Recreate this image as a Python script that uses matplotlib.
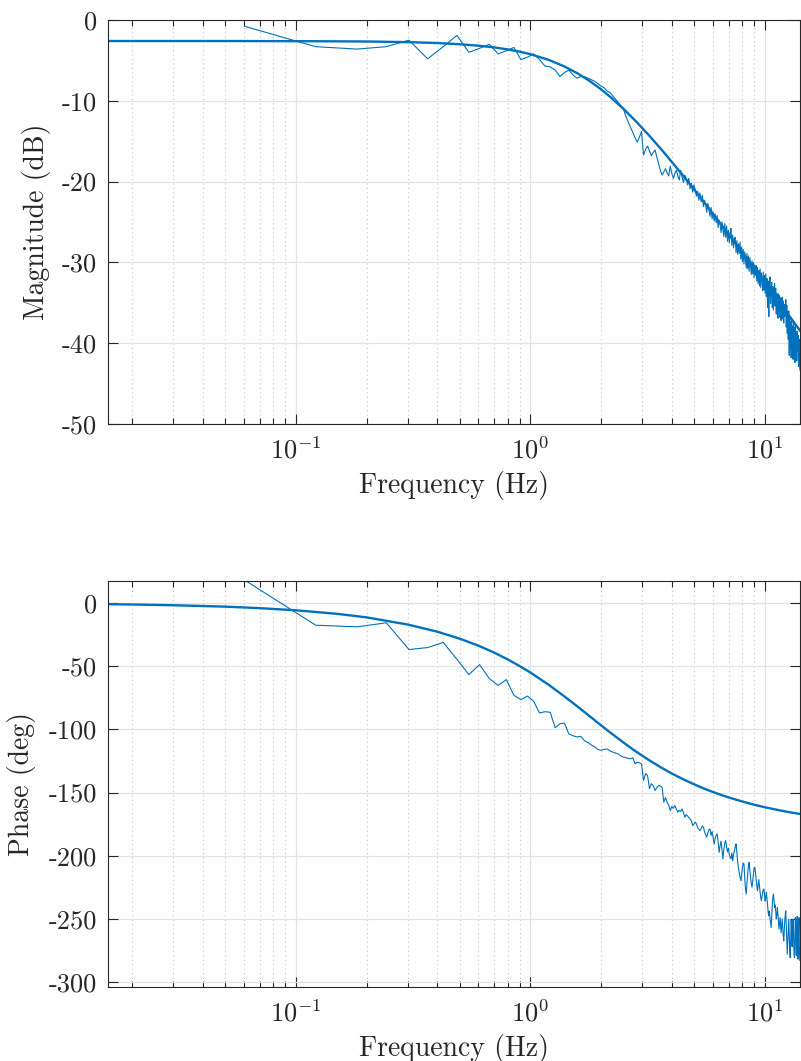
import numpy as np
import matplotlib
matplotlib.use('Agg')
import matplotlib.pyplot as plt
from matplotlib.ticker import FixedLocator, LogLocator, FuncFormatter, NullFormatter

plt.rcParams['font.family'] = 'cmr10'
plt.rcParams['mathtext.fontset'] = 'cm'
plt.rcParams['axes.unicode_minus'] = False
plt.rcParams['axes.formatter.use_mathtext'] = False

# ---------------- data ----------------
# measured FRF: FFT bins, frequency resolution (Hz)
df = 0.0607

mag_meas = [
    -0.8, -3.3, -3.6, -3.3, -2.5, -4.8, -3.3, -1.9, -4.0, -3.5,
    -3.0, -4.2, -3.8, -3.4, -4.9, -4.6, -4.2, -4.9, -5.7, -5.8,
    -6.2, -7.0, -6.5, -6.2, -6.8, -7.2, -7.0, -7.0, -7.2, -7.4,
    -7.6, -7.9, -8.2, -8.4, -8.8, -9.0, -9.4, -9.8, -10.2, -10.6,
    -11.0, -11.9, -12.6, -13.3, -13.9, -14.6, -15.1, -14.5, -13.8, -16.7,
    -16.0, -15.6, -16.2, -16.8, -16.4, -16.1, -17.0, -17.8, -18.6, -19.2,
    -18.8, -18.4, -18.9, -19.3, -18.1, -19.0, -19.6, -19.0, -18.6, -19.3,
    -19.8, -18.6, -19.4, -20.1, -19.2, -19.6, -20.4, -19.6, -20.9, -20.2,
    -21.3, -20.4, -21.0, -21.8, -21.2, -22.3, -21.4, -22.5, -21.7, -23.1,
    -22.3, -22.9, -23.8, -22.7, -23.4, -24.3, -23.2, -24.6, -23.8, -24.9,
    -24.0, -25.1, -24.2, -25.7, -24.8, -25.3, -26.3, -25.0, -26.0, -26.8,
    -25.2, -26.9, -25.5, -27.4, -26.0, -27.6, -26.3, -25.8, -27.9, -26.6,
    -28.2, -27.0, -26.9, -28.8, -27.3, -29.0, -27.7, -28.9, -27.5, -29.6,
    -28.1, -29.9, -28.4, -30.2, -28.7, -29.6, -30.7, -28.9, -30.8, -29.2,
    -31.1, -29.4, -30.4, -31.5, -29.8, -31.4, -30.0, -31.9, -30.3, -31.6,
    -30.4, -32.3, -30.6, -32.6, -31.0, -32.9, -30.8, -33.1, -31.3, -32.0,
    -33.5, -31.2, -33.4, -31.6, -33.8, -31.4, -34.2, -32.0, -35.6, -32.3,
    -36.7, -33.0, -31.8, -35.1, -33.3, -32.5, -35.6, -33.0, -35.9, -33.4,
    -32.6, -35.4, -33.2, -36.4, -33.8, -35.0, -36.9, -33.9, -35.9, -34.1,
    -36.8, -34.4, -37.2, -35.0, -34.3, -37.0, -34.8, -37.5, -35.2, -36.5,
    -36.7, -34.6, -38.0, -35.3, -38.8, -36.1, -39.5, -36.0, -41.5, -36.8,
    -40.7, -37.3, -41.8, -37.0, -40.2, -37.9, -42.0, -37.4, -41.6, -38.1,
    -42.4, -37.8, -41.3, -38.6, -42.2, -38.5, -41.0, -39.0, -42.9, -39.5,
    -41.8, -43.3,
]

phase_meas = [
    18.0, -17.5, -18.8, -15.6, -36.8, -35.2, -31.2, -44.5, -56.6, -48.7,
    -59.8, -65.1, -60.6, -73.0, -76.5, -73.6, -77.8, -87.0, -86.0, -86.5,
    -98.7, -95.5, -95.0, -103.5, -105.0, -106.0, -105.5, -109.0, -110.5, -112.5,
    -114.0, -116.0, -116.5, -115.8, -115.5, -117.0, -118.0, -118.8, -119.5, -121.0,
    -122.0, -122.3, -123.0, -123.3, -122.5, -127.2, -126.0, -126.5, -127.2, -140.5,
    -135.0, -136.5, -147.0, -143.0, -144.5, -148.4, -146.0, -144.4, -145.0, -145.8,
    -157.7, -154.0, -157.7, -160.0, -164.3, -161.0, -162.5, -160.3, -163.0, -165.6,
    -164.0, -165.0, -163.0, -166.0, -169.6, -167.5, -168.5, -170.0, -171.0, -172.5,
    -176.2, -175.0, -173.5, -174.8, -177.5, -179.0, -180.2, -178.5, -176.5, -177.5,
    -181.0, -183.5, -185.4, -182.0, -179.5, -178.8, -184.0, -181.0, -186.0, -190.7,
    -186.0, -184.0, -182.8, -189.0, -197.4, -192.0, -188.5, -196.0, -202.6, -195.0,
    -190.0, -188.0, -193.0, -197.0, -194.0, -199.0, -201.0, -202.6, -198.0, -204.0,
    -199.0, -196.0, -193.0, -190.7, -198.0, -205.0, -210.0, -214.0, -217.0, -219.8,
    -215.0, -209.0, -206.0, -206.6, -218.0, -226.0, -230.4, -222.0, -214.0, -208.0,
    -205.3, -212.0, -218.0, -222.0, -225.0, -220.0, -215.0, -210.0, -209.3, -213.0,
    -219.0, -224.0, -227.8, -223.0, -219.0, -224.0, -229.0, -233.0, -235.7, -232.0,
    -229.0, -227.0, -226.4, -231.0, -236.0, -233.0, -229.0, -234.0, -240.0, -245.0,
    -247.6, -244.0, -249.0, -253.0, -256.9, -248.0, -239.0, -233.0, -230.4, -236.0,
    -241.0, -239.0, -244.0, -250.0, -247.0, -241.0, -246.0, -252.0, -258.2, -254.0,
    -249.0, -255.0, -261.0, -256.0, -250.0, -257.0, -263.0, -267.5, -260.0, -252.0,
    -247.0, -243.7, -255.0, -266.0, -278.0, -268.0, -256.0, -250.3, -262.0, -274.0,
    -280.7, -266.0, -251.0, -258.0, -272.0, -264.0, -250.3, -263.0, -277.0, -280.7,
    -262.0, -249.0, -265.0, -279.0, -258.0, -248.0, -271.0, -282.0, -261.0, -249.0,
    -276.0, -283.0,
]

# fitted model (smooth curve)
fit_freq = [0.0158, 0.02, 0.03, 0.05, 0.07, 0.1, 0.15, 0.2, 0.3, 0.4,
            0.5, 0.6, 0.7, 0.8, 0.9, 1.0, 1.2, 1.4, 1.6, 1.8,
            2.0, 2.2, 2.5, 2.8, 3.2, 3.6, 4.0, 4.5, 5.0, 5.6,
            6.3, 7.0, 8.0, 9.0, 10.0, 11.0, 12.0, 13.0, 14.1]
fit_mag = [-2.60, -2.60, -2.60, -2.60, -2.61, -2.62, -2.64, -2.66, -2.74, -2.85,
           -3.00, -3.18, -3.39, -3.64, -3.92, -4.23, -4.95, -5.77, -6.66, -7.61,
           -8.58, -9.57, -11.04, -12.46, -14.27, -15.96, -17.54, -19.35, -21.02, -22.85,
           -24.78, -26.53, -28.77, -30.76, -32.56, -34.18, -35.67, -37.04, -38.44]
fit_phase = [-0.9, -1.1, -1.7, -2.8, -4.0, -5.7, -8.5, -11.3, -17.0, -22.6,
             -28.2, -33.7, -39.2, -44.6, -49.9, -55.0, -64.9, -74.1, -82.4, -90.0,
             -96.8, -102.8, -110.6, -117.2, -124.3, -130.1, -134.9, -139.7, -143.6, -147.5,
             -151.0, -153.9, -157.1, -159.7, -161.7, -163.3, -164.7, -165.9, -167.0]

mag_ticks = [-50, -40, -30, -20, -10, 0]
phase_ticks = [-300, -250, -200, -150, -100, -50, 0]
x_ticks = [0.1, 1, 10]

# ---------------- plot ----------------
freq_meas = df * np.arange(1, len(mag_meas) + 1)
blue = '#0072BD'
dark = '#262626'

W, H = 801, 1061
fig = plt.figure(figsize=(W / 100, H / 100), dpi=100)
ax1 = fig.add_axes([108 / W, 1 - 424 / H, 692 / W, 404 / H])
ax2 = fig.add_axes([108 / W, 1 - 987 / H, 692 / W, 406 / H])


def style(ax):
    ax.set_xscale('log')
    ax.set_xlim(0.0158, 14.1)
    ax.xaxis.set_major_locator(FixedLocator(x_ticks))
    ax.xaxis.set_minor_locator(LogLocator(base=10, subs=np.arange(2, 10)))
    ax.xaxis.set_major_formatter(FuncFormatter(lambda v, p: r'$10^{%d}$' % int(round(np.log10(v)))))
    ax.xaxis.set_minor_formatter(NullFormatter())
    ax.yaxis.set_major_formatter(FuncFormatter(lambda v, p: '%d' % int(round(v))))
    ax.grid(which='major', color='#e3e3e3', lw=0.9, ls='-')
    ax.grid(which='minor', axis='x', color='#c4c4c4', lw=0.8, ls=(0, (1, 3)))
    ax.set_axisbelow(True)
    ax.tick_params(which='both', direction='in', top=True, right=True,
                   color=dark, labelcolor=dark, labelsize=19, width=0.8)
    ax.tick_params(which='major', length=7)
    ax.tick_params(which='minor', length=4)
    ax.tick_params(axis='x', which='major', pad=9)
    ax.tick_params(axis='y', which='major', pad=8)
    for s in ax.spines.values():
        s.set_color(dark)
        s.set_linewidth(0.8)
    ax.set_xlabel('Frequency (Hz)', fontsize=20, color=dark, va='baseline')
    ax.xaxis.set_label_coords(0.5, -69 / ax.bbox.height * (fig.dpi / 100))


ax1.plot(freq_meas, mag_meas, color=blue, lw=0.8)
ax1.plot(fit_freq, fit_mag, color=blue, lw=1.7)
style(ax1)
ax1.set_ylim(-50, 0)
ax1.set_yticks(mag_ticks)
ax1.set_ylabel('Magnitude (dB)', fontsize=20, color=dark, va='center')
ax1.yaxis.set_label_coords(-(108 - 37) / 692, 0.5)

ax2.plot(freq_meas, phase_meas, color=blue, lw=0.8)
ax2.plot(fit_freq, fit_phase, color=blue, lw=1.7)
style(ax2)
ax2.set_ylim(-304, 17.5)
ax2.set_yticks(phase_ticks)
ax2.set_ylabel('Phase (deg)', fontsize=20, color=dark, va='center')
ax2.yaxis.set_label_coords(-(108 - 22) / 692, 0.5)

fig.savefig('out.png', dpi=100)
